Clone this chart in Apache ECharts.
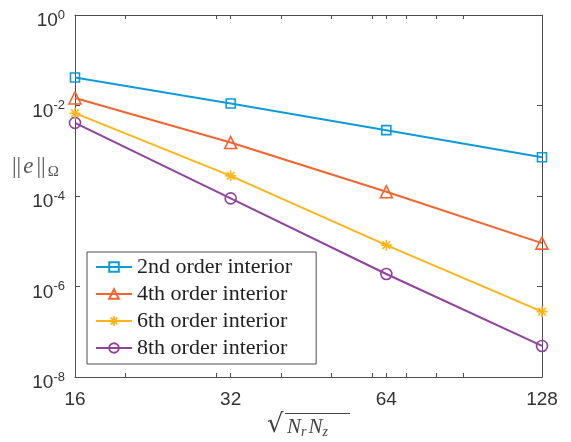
<!DOCTYPE html>
<html>
<head>
<meta charset="UTF-8">
<title>convergence</title>
<script src="https://cdn.jsdelivr.net/npm/echarts@6/dist/echarts.min.js"></script>
<style>
  html, body { margin: 0; padding: 0; background: #fff; }
  #chart { width: 571px; height: 442px; }
</style>
</head>
<body>
<div id="chart"></div>
<script>
// grid resolutions sqrt(Nr*Nz)
const nVals = [16, 32, 64, 128];
// error norms
const err2 = [0.0415, 0.0111, 0.00285, 7.2e-4];
const err4 = [0.0147, 1.52e-3, 1.24e-4, 9.1e-6];
const err6 = [6.76e-3, 2.79e-4, 8.2e-6, 2.78e-7];
const err8 = [4.13e-3, 8.85e-5, 1.89e-6, 4.86e-8];
const names = ['2nd order interior', '4th order interior', '6th order interior', '8th order interior'];
const colors = ['#0E9BD8', '#F26430', '#FFB519', '#9142A0'];

const xTicks = [16, 32, 64, 128];
const xMinor = [16, 20, 30, 32, 40, 50, 60, 64, 70, 80, 90, 128];
const yTicks = [1e-8, 1e-6, 1e-4, 1e-2, 1];

const axisCol = '#4d4d4d';
const starPath = 'path://M0,-10L0,10M-10,0L10,0M-7,-7L7,7M-7,7L7,-7';

function pairs(ys) { return nVals.map((x, i) => [x, ys[i]]); }

function series(i, ys, symbol, size) {
  return {
    name: names[i], type: 'line', data: pairs(ys),
    symbol: symbol, symbolSize: size,
    lineStyle: { color: colors[i], width: 2 },
    itemStyle: { color: 'none', borderColor: colors[i], borderWidth: 1.6 },
    emphasis: { disabled: true },
    z: 10 - i
  };
}

function xAxisDef(pos, labels) {
  return {
    type: 'log', logBase: 2, min: 16, max: 128, position: pos,
    axisLine: { show: true, onZero: false, lineStyle: { color: axisCol, width: 1 } },
    axisTick: { show: true, inside: true, length: 4, customValues: xMinor, lineStyle: { color: axisCol } },
    axisLabel: { show: labels, customValues: xTicks, color: '#333', fontSize: 19,
      fontFamily: 'Liberation Sans', margin: 13 },
    splitLine: { show: false }, minorTick: { show: false }
  };
}

function yAxisDef(pos, labels) {
  return {
    type: 'log', logBase: 10, min: 1e-8, max: 1, position: pos,
    axisLine: { show: true, onZero: false, lineStyle: { color: axisCol, width: 1 } },
    axisTick: { show: true, inside: true, length: 5, customValues: yTicks, lineStyle: { color: axisCol } },
    axisLabel: {
      show: labels, customValues: yTicks, color: '#333', fontSize: 19,
      fontFamily: 'Liberation Sans', margin: 10, padding: [12, 0, 0, 0],
      formatter: v => '10{sup|' + Math.round(Math.log10(v)) + '}',
      rich: { sup: { fontSize: 13, fontFamily: 'Liberation Sans', color: '#333', padding: [0, 0, 12, 0] } }
    },
    splitLine: { show: false }
  };
}

const chart = echarts.init(document.getElementById('chart'), null, { renderer: 'canvas' });
chart.setOption({
  animation: false,
  backgroundColor: '#fff',
  grid: { left: 75, top: 15, right: 29, bottom: 65, containLabel: false },
  xAxis: [xAxisDef('bottom', true), xAxisDef('top', false)],
  yAxis: [yAxisDef('left', true), yAxisDef('right', false)],
  legend: {
    orient: 'vertical', left: 87, top: 252,
    itemWidth: 36, itemHeight: 12, itemGap: 5,
    padding: [4, 24, 5, 8],
    backgroundColor: '#fff', borderColor: axisCol, borderWidth: 1,
    textStyle: { fontFamily: 'Liberation Serif', fontSize: 22, lineHeight: 22, color: '#222' },
    data: names
  },
  series: [
    series(0, err2, 'rect', 9),
    series(1, err4, 'triangle', 12),
    series(2, err6, starPath, 11),
    series(3, err8, 'circle', 11)
  ],
  graphic: [
    {
      type: 'text', left: 12, top: 155,
      style: {
        text: '{b|||}{i|e}{b|||}{sub|Ω}', fill: '#555',
        rich: {
          b: { fontFamily: 'Liberation Serif', fontSize: 23, fill: '#555', padding: [0, 1, 0, 1] },
          i: { fontStyle: 'italic', fontFamily: 'Liberation Serif', fontSize: 23, fill: '#555', padding: [0, 2, 0, 1] },
          sub: { fontFamily: 'Liberation Serif', fontSize: 15, fill: '#555', padding: [11, 0, 0, 1] }
        }
      }
    },
    {
      type: 'text', left: 267, top: 412,
      style: { text: '√', fill: '#444', font: '26px "DejaVu Serif"' }
    },
    {
      type: 'line', shape: { x1: 285, y1: 413.5, x2: 350, y2: 413.5 },
      style: { stroke: '#444', lineWidth: 1 }
    },
    {
      type: 'text', left: 287, top: 417,
      style: {
        text: '{i|N}{s|r}{i|N}{s|z}', fill: '#444',
        rich: {
          i: { fontStyle: 'italic', fontFamily: 'Liberation Serif', fontSize: 21, fill: '#444' },
          s: { fontStyle: 'italic', fontFamily: 'Liberation Serif', fontSize: 14, fill: '#444', padding: [10, 2, 0, 0] }
        }
      }
    }
  ]
});
</script>
</body>
</html>
